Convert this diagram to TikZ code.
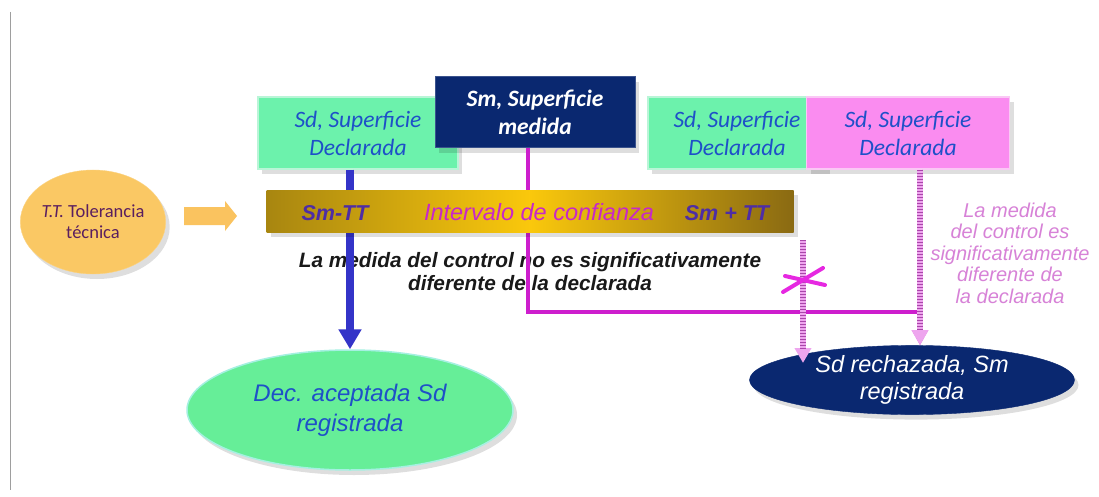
\documentclass[tikz,border=0pt]{standalone}
\usepackage{fontspec}
\setmainfont{Liberation Sans}
\newfontfamily\calfont{Carlito}
\usetikzlibrary{arrows.meta,shapes.geometric,shadows}
\definecolor{boxgreen}{RGB}{108,242,172}
\definecolor{gedge}{RGB}{185,245,215}
\definecolor{boxpink}{RGB}{250,140,240}
\definecolor{pedge}{RGB}{250,200,245}
\definecolor{navy}{RGB}{10,40,112}
\definecolor{tblue}{RGB}{30,80,200}
\definecolor{ellgreen}{RGB}{102,238,152}
\definecolor{ellgedge}{RGB}{165,240,225}
\definecolor{ttfill}{RGB}{250,200,100}
\definecolor{ttarrow}{RGB}{250,195,95}
\definecolor{ttext}{RGB}{90,30,95}
\definecolor{barL}{RGB}{168,134,16}
\definecolor{barM}{RGB}{250,200,12}
\definecolor{barR}{RGB}{138,106,18}
\definecolor{smtt}{RGB}{78,45,165}
\definecolor{intv}{RGB}{200,40,200}
\definecolor{bluel}{RGB}{52,52,200}
\definecolor{magl}{RGB}{205,30,205}
\definecolor{hpink}{RGB}{238,165,238}
\definecolor{hdark}{RGB}{170,70,170}
\definecolor{xmag}{RGB}{230,40,225}
\definecolor{ptext}{RGB}{215,130,215}
\tikzset{
  shad/.style={drop shadow={shadow xshift=4pt,shadow yshift=-5pt,opacity=0.13,fill=black}},
  gbox/.style={shad,draw=gedge,line width=1.5pt,fill=boxgreen,text=tblue,
    font=\calfont\itshape\fontsize{23.5}{28}\selectfont,align=center,inner sep=0pt,
    minimum height=72pt},
  pbox/.style={gbox,draw=pedge,fill=boxpink},
  nbox/.style={shad,draw=navy!80,line width=1pt,fill=navy,text=white,
    font=\calfont\bfseries\itshape\fontsize{23.5}{28}\selectfont,align=center,inner sep=0pt,
    minimum width=200pt,minimum height=71pt},
  barbox/.style={shad,rectangle,left color=barL,right color=barR,middle color=barM,
    minimum width=527pt,minimum height=42pt,inner sep=0pt},
  bartxt/.style={font=\bfseries\itshape\fontsize{21.5}{24}\selectfont,text=smtt},
  intvtxt/.style={font=\itshape\fontsize{23.5}{26}\selectfont,text=intv},
  ttell/.style={shad,ellipse,fill=ttfill,draw=ttfill!80!white,text=ttext,
    font=\calfont\fontsize{18.5}{21}\selectfont,align=center,inner sep=0pt,
    minimum width=142pt,minimum height=104pt},
  blockarr/.style={fill=ttarrow,draw=none},
  accell/.style={shad,ellipse,fill=ellgreen,draw=ellgedge,line width=1.5pt,text=tblue,
    font=\itshape\fontsize{24}{30}\selectfont,align=center,inner sep=0pt,
    minimum width=326pt,minimum height=120pt},
  rejell/.style={shad,ellipse,fill=navy,draw=navy,text=white,
    font=\itshape\fontsize{23.5}{27}\selectfont,align=center,inner sep=0pt,
    minimum width=325pt,minimum height=62pt},
  bluearr/.style={draw=bluel,line width=8pt,-{Triangle[width=22pt,length=20pt]}},
  magarr/.style={draw=magl,line width=3.5pt,-{Triangle[width=14pt,length=14pt]}},
  hatchbase/.style={draw=hpink,line width=6pt,-{Triangle[width=16pt,length=15pt]}},
  hatchtop/.style={draw=hdark,line width=6pt,dash pattern=on 1.2pt off 1.8pt},
  xmark/.style={draw=xmag,line width=4pt,line cap=round},
  midtxt/.style={font=\bfseries\itshape\fontsize{20.8}{23}\selectfont,align=center,text=black!90},
  pinktxt/.style={font=\itshape\fontsize{20}{21.5}\selectfont,align=center,text=ptext},
}
\begin{document}
\begin{tikzpicture}[x=1pt,y=-1pt]
\useasboundingbox (0,0) rectangle (1099,497);
\fill[white] (0,0) rectangle (1099,497);
\draw[black!38,line width=1pt] (10,12) -- (10,490);

% boxes
\node[gbox,minimum width=200pt] (sd1) at (358,133) {Sd, Superficie\\Declarada};
\node[gbox,minimum width=178pt] (sd3) at (737,133) {Sd, Superficie\\Declarada};
\node[pbox,minimum width=203pt] (sd4) at (908,133) {Sd, Superficie\\Declarada};

% end ellipses
\node[accell] (acc) at (350,410) {Dec. aceptada Sd\\registrada};
\node[rejell] (rej) at (912,380) {Sd rechazada, Sm\\registrada};

% texts (under the connectors)
\node[midtxt] (t1) at (530,272) {La medida del control no es significativamente\\diferente de la declarada};
\node[pinktxt] (t2) at (1010,253) {La medida\\del control es\\significativamente\\diferente de\\la declarada};

% coordinates for connectors
\coordinate (mk) at (528,312);
\coordinate (jx) at (920,312);
\coordinate (hx) at (803,240);
\coordinate (hend) at (803,363);

% connectors behind the bar
\draw[bluearr] (acc.north |- sd1.south) -- (acc.north);
\node[nbox] (sm) at (535,112.5) {Sm, Superficie\\medida};
\draw[magarr] (sm.south -| mk) -- (mk) -- (jx) -- (jx |- rej.north);

% bar
\node[barbox] (bar) at (530,211) {};
\node[bartxt] (lo) at (335,213) {Sm-TT};
\node[bartxt] (hi) at (727,213) {Sm + TT};
\node[intvtxt] (iv) at (539,212) {Intervalo de confianza};

% tolerance
\node[ttell] (tt) at (93,222) {\textit{T.T.} Tolerancia\\técnica};
\fill[blockarr] (184,207) -- (225,207) -- (225,201) -- (237,216) -- (225,231) -- (225,225) -- (184,225) -- cycle;

% hatched connectors
\draw[hatchbase] (sd4.south -| jx) -- (jx |- rej.north);
\draw[hatchtop] (sd4.south -| jx) -- ([yshift=14pt]jx |- rej.north);
\draw[hatchbase] (hx) -- (hend);
\draw[hatchtop] (hx) -- ([yshift=14pt]hend);

% cross
\draw[xmark] (783,292) -- (823,268);
\draw[xmark] (785,276) -- (825,285);
\end{tikzpicture}
\end{document}
